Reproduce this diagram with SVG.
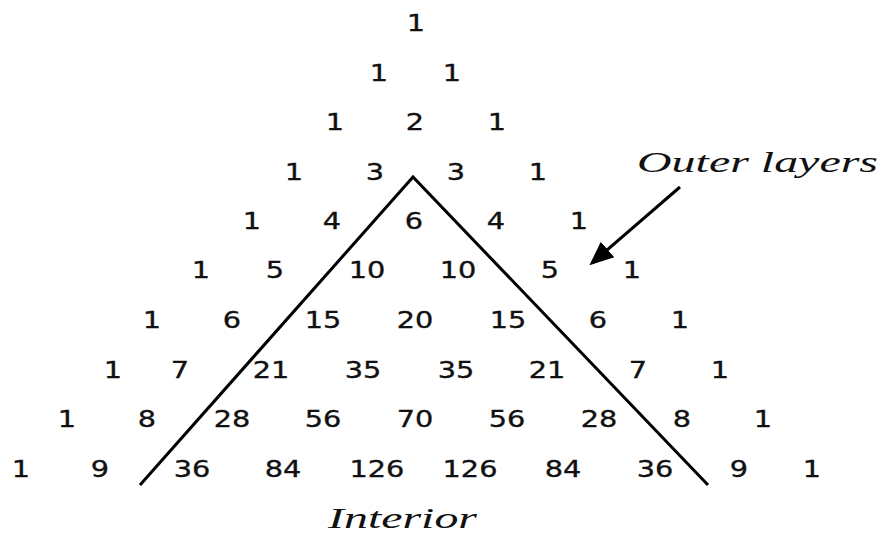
<svg xmlns="http://www.w3.org/2000/svg" width="887" height="537" viewBox="0 0 887 537">
<style>
.n{font-family:"DejaVu Sans",Verdana,sans-serif;font-size:23px;fill:#111;stroke:#111;stroke-width:0.35;text-anchor:middle}
.s{font-family:"Liberation Serif","DejaVu Serif",serif;font-style:italic;font-size:29px;fill:#111}
.ln{fill:none;stroke:#000;stroke-width:3}
</style>
<defs>
<marker id="ah" markerWidth="8" markerHeight="8" refX="6" refY="3" orient="auto" markerUnits="strokeWidth" viewBox="0 0 7 6">
<path d="M0,0 L7,3 L0,6 Z" fill="#000"/>
</marker>
</defs>
<rect width="887" height="537" fill="#fff"/>
<g transform="scale(1.25 1)">
<g id="row0"><text class="n" x="332.8" y="31">1</text></g>
<g id="row1"><text class="n" x="303.2" y="80.75">1</text><text class="n" x="361.6" y="80.75">1</text></g>
<g id="row2"><text class="n" x="268" y="130.5">1</text><text class="n" x="332" y="130.5">2</text><text class="n" x="397.6" y="130.5">1</text></g>
<g id="row3"><text class="n" x="235.2" y="180.25">1</text><text class="n" x="300" y="180.25">3</text><text class="n" x="364.8" y="180.25">3</text><text class="n" x="430.4" y="180.25">1</text></g>
<g id="row4"><text class="n" x="201.6" y="229">1</text><text class="n" x="265.6" y="229">4</text><text class="n" x="331.2" y="229">6</text><text class="n" x="396.8" y="229">4</text><text class="n" x="463.2" y="229">1</text></g>
<g id="row5"><text class="n" x="160.8" y="278.5">1</text><text class="n" x="220" y="278.5">5</text><text class="n" x="293.6" y="278.5">10</text><text class="n" x="366.4" y="278.5">10</text><text class="n" x="440" y="278.5">5</text><text class="n" x="505.6" y="278.5">1</text></g>
<g id="row6"><text class="n" x="121.6" y="328.5">1</text><text class="n" x="185.6" y="328.5">6</text><text class="n" x="258.4" y="328.5">15</text><text class="n" x="332" y="328.5">20</text><text class="n" x="406.4" y="328.5">15</text><text class="n" x="478.4" y="328.5">6</text><text class="n" x="544" y="328.5">1</text></g>
<g id="row7"><text class="n" x="90.4" y="378">1</text><text class="n" x="144" y="378">7</text><text class="n" x="216.8" y="378">21</text><text class="n" x="290.4" y="378">35</text><text class="n" x="364.8" y="378">35</text><text class="n" x="437.6" y="378">21</text><text class="n" x="510.4" y="378">7</text><text class="n" x="576" y="378">1</text></g>
<g id="row8"><text class="n" x="53.6" y="427.5">1</text><text class="n" x="117.6" y="427.5">8</text><text class="n" x="185.6" y="427.5">28</text><text class="n" x="258.4" y="427.5">56</text><text class="n" x="332" y="427.5">70</text><text class="n" x="405.6" y="427.5">56</text><text class="n" x="479.2" y="427.5">28</text><text class="n" x="545.6" y="427.5">8</text><text class="n" x="610.4" y="427.5">1</text></g>
<g id="row9"><text class="n" x="16.8" y="477">1</text><text class="n" x="80" y="477">9</text><text class="n" x="153.6" y="477">36</text><text class="n" x="226.4" y="477">84</text><text class="n" x="301.6" y="477">126</text><text class="n" x="376" y="477">126</text><text class="n" x="450.4" y="477">84</text><text class="n" x="524" y="477">36</text><text class="n" x="591.2" y="477">9</text><text class="n" x="649.6" y="477">1</text></g>
</g>
<g id="labels">
<text id="outer" class="s" x="637" y="172" textLength="241" lengthAdjust="spacingAndGlyphs">Outer layers</text>
<text id="interior" class="s" x="328" y="528" textLength="149" lengthAdjust="spacingAndGlyphs">Interior</text>
</g>
<g id="connectors">
<polyline class="ln" points="140,485 413,177 708,485"/>
<line class="ln" x1="680" y1="187" x2="592" y2="263" marker-end="url(#ah)"/>
</g>
</svg>
